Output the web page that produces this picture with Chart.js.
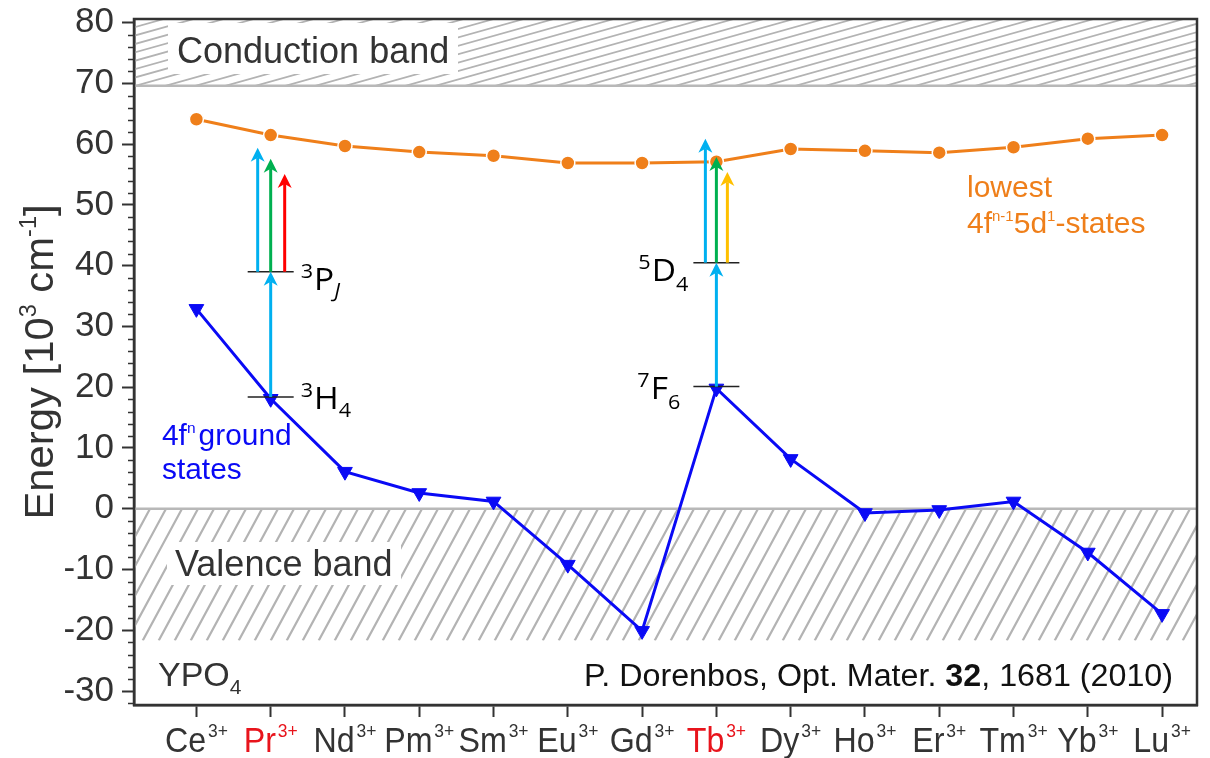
<!DOCTYPE html>
<html>
<head>
<meta charset="utf-8">
<script src="https://cdn.jsdelivr.net/npm/chart.js@4.4.1/dist/chart.umd.min.js"></script>
<style>
  html, body { margin: 0; padding: 0; background: #fff; }
</style>
</head>
<body>
<canvas id="chart1" width="1210" height="758"></canvas>
<script>
// ions along the lanthanide series, Pr and Tb highlighted in red
const ions = ['Ce', 'Pr', 'Nd', 'Pm', 'Sm', 'Eu', 'Gd', 'Tb', 'Dy', 'Ho', 'Er', 'Tm', 'Yb', 'Lu']
const redIons = ['Pr', 'Tb']
// lowest 4f(n-1)5d1 states and 4f(n) ground states, 10^3 cm^-1
const lowest5d = [64.1, 61.5, 59.7, 58.7, 58.1, 56.9, 56.9, 57.1, 59.2, 58.9, 58.6, 59.5, 60.9, 61.5]
const groundStates = [32.9, 18.1, 6.1, 2.6, 1.2, -9.2, -20.1, 19.8, 8.2, -0.7, -0.2, 1.2, -7.2, -17.3]
const yRange = [-32.3, 80.6]
const conductionBand = [69.6, 80.6]
const valenceBand = [-21.7, 0]
// Pr3+: 3H4, 3PJ levels and excitation arrow tops (blue, green, red)
const prLevels = [18.4, 39.0]
const prExcite = [59.4, 57.6, 55.1]
// Tb3+: 7F6, 5D4 levels and excitation arrow tops (blue, green, yellow)
const tbLevels = [20.1, 40.5]
const tbExcite = [60.9, 57.9, 55.4]

const ORANGE = '#ef7f1a'
const BLUE = '#0a0af5'
const SKY = '#00b0f0'
const GREEN = '#00b050'
const RED = '#ff0000'
const YELLOW = '#ffc000'
const DARK = '#333333'
const ARIAL = '"Liberation Sans", Arial, sans-serif'
const SANS = '"Open Sans", "Noto Sans", sans-serif'

// text made of runs: {t, f (font), dy, c, gap}
function drawRuns(ctx, parts, x, y, opt) {
    opt = opt || {}
    const sx = opt.sx || 1
    ctx.save()
    let w = 0
    parts.forEach(p => {
        ctx.font = p.f
        p.w = ctx.measureText(p.t).width + (p.gap || 0)
        w += p.w
    })
    let start = x
    if (opt.align === 'center') start = x - w * sx / 2
    else if (opt.align === 'right') start = x - w * sx
    ctx.translate(start, y)
    ctx.scale(sx, 1)
    ctx.textBaseline = 'alphabetic'
    ctx.textAlign = 'left'
    let cx = 0
    parts.forEach(p => {
        ctx.font = p.f
        ctx.fillStyle = p.c || opt.color || DARK
        ctx.fillText(p.t, cx, p.dy || 0)
        cx += p.w
    })
    ctx.restore()
}

function arrow(ctx, x, yFrom, yTo, color) {
    const head = 14, half = 7, notch = 4
    ctx.save()
    ctx.strokeStyle = color
    ctx.fillStyle = color
    ctx.lineWidth = 3
    ctx.beginPath()
    ctx.moveTo(x, yFrom)
    ctx.lineTo(x, yTo + head - notch)
    ctx.stroke()
    ctx.beginPath()
    ctx.moveTo(x, yTo)
    ctx.lineTo(x + half, yTo + head)
    ctx.lineTo(x, yTo + head - notch)
    ctx.lineTo(x - half, yTo + head)
    ctx.closePath()
    ctx.fill()
    ctx.restore()
}

function hatch(ctx, area, yTop, yBot, slope, step, width) {
    ctx.save()
    ctx.beginPath()
    ctx.rect(area.left, yTop, area.right - area.left, yBot - yTop)
    ctx.clip()
    ctx.strokeStyle = '#b3b3b3'
    ctx.lineWidth = width
    const h = yBot - yTop
    const dx = h / slope
    ctx.beginPath()
    for (let x = area.left - dx - step; x < area.right + step; x += step) {
        ctx.moveTo(x, yBot)
        ctx.lineTo(x + dx, yTop)
    }
    ctx.stroke()
    ctx.restore()
}

const bandsPlugin = {
    id: 'bands',
    beforeDatasetsDraw(chart) {
        const ctx = chart.ctx
        const a = chart.chartArea
        const y = chart.scales.y
        const cTop = y.getPixelForValue(conductionBand[1])
        const cBot = y.getPixelForValue(conductionBand[0])
        const vTop = y.getPixelForValue(valenceBand[1])
        const vBot = y.getPixelForValue(valenceBand[0])
        hatch(ctx, a, cTop, cBot, 0.28, 30, 1.8)
        hatch(ctx, a, vTop, vBot, 1.85, 16, 2.2)
        ctx.save()
        ctx.strokeStyle = '#b8b8b8'
        ctx.lineWidth = 2.5
        ctx.beginPath()
        ctx.moveTo(a.left, cBot); ctx.lineTo(a.right, cBot)
        ctx.moveTo(a.left, vTop); ctx.lineTo(a.right, vTop)
        ctx.stroke()
        ctx.fillStyle = '#fff'
        ctx.fillRect(168, 23, 290, 51)
        ctx.fillRect(167, 542, 234, 43)
        ctx.restore()
        drawRuns(ctx, [{ t: 'Conduction band', f: '36px ' + ARIAL }], 177, 63)
        drawRuns(ctx, [{ t: 'Valence band', f: '36px ' + ARIAL }], 175, 576)
        drawRuns(ctx, [{ t: 'YPO', f: '34px ' + ARIAL }, { t: '4', f: '21px ' + ARIAL, dy: 8 }], 158, 686)
        drawRuns(ctx, [
            { t: 'P. Dorenbos, Opt. Mater. ', f: '31px ' + ARIAL, c: '#111' },
            { t: '32', f: 'bold 31px ' + ARIAL, c: '#111' },
            { t: ', 1681 (2010)', f: '31px ' + ARIAL, c: '#111' }
        ], 1173, 686, { align: 'right', sx: 1.04 })
    },
    afterDatasetsDraw(chart) {
        const ctx = chart.ctx
        const a = chart.chartArea
        const xs = chart.scales.x
        const y = chart.scales.y

        // energy levels and excitation arrows
        const groups = [
            { ion: 1, levels: prLevels, tops: prExcite, offs: [-13, 0, 14], cols: [SKY, GREEN, RED] },
            { ion: 7, levels: tbLevels, tops: tbExcite, offs: [-11, 0, 11], cols: [SKY, GREEN, YELLOW] }
        ]
        groups.forEach(g => {
            const cx = xs.getPixelForValue(g.ion)
            const lo = y.getPixelForValue(g.levels[0])
            const hi = y.getPixelForValue(g.levels[1])
            ctx.save()
            ctx.strokeStyle = '#222'
            ctx.lineWidth = 1.5
            ctx.beginPath()
            ctx.moveTo(cx - 23, lo); ctx.lineTo(cx + 23, lo)
            ctx.moveTo(cx - 23, hi); ctx.lineTo(cx + 23, hi)
            ctx.stroke()
            ctx.restore()
            arrow(ctx, cx, lo, hi, SKY)
            g.tops.forEach((t, i) => arrow(ctx, cx + g.offs[i], hi, y.getPixelForValue(t), g.cols[i]))
        })

        const prX = xs.getPixelForValue(1)
        const tbX = xs.getPixelForValue(7)
        const big = '31px ' + SANS
        const small = '20px ' + SANS
        drawRuns(ctx, [{ t: '3', f: small, dy: -12, gap: 1 }, { t: 'P', f: big }, { t: 'J', f: 'italic ' + small, dy: 7 }],
            prX + 30, y.getPixelForValue(prLevels[1]) + 18, { sx: 1.08, color: '#000' })
        drawRuns(ctx, [{ t: '3', f: small, dy: -12, gap: 1 }, { t: 'H', f: big }, { t: '4', f: small, dy: 8 }],
            prX + 30, y.getPixelForValue(prLevels[0]) + 12, { sx: 1.08, color: '#000' })
        drawRuns(ctx, [{ t: '5', f: small, dy: -12, gap: 1 }, { t: 'D', f: big }, { t: '4', f: small, dy: 10 }],
            tbX - 28, y.getPixelForValue(tbLevels[1]) + 18, { sx: 1.08, color: '#000', align: 'right' })
        drawRuns(ctx, [{ t: '7', f: small, dy: -12, gap: 1 }, { t: 'F', f: big }, { t: '6', f: small, dy: 10 }],
            tbX - 36, y.getPixelForValue(tbLevels[0]) + 12, { sx: 1.08, color: '#000', align: 'right' })

        // series captions
        drawRuns(ctx, [{ t: '4f', f: '29px ' + ARIAL }, { t: 'n', f: '15px ' + ARIAL, dy: -12, gap: 3 }, { t: 'ground', f: '29px ' + ARIAL }],
            162, 445, { color: BLUE, sx: 1.03 })
        drawRuns(ctx, [{ t: 'states', f: '29px ' + ARIAL }], 162, 479, { color: BLUE, sx: 1.03 })
        drawRuns(ctx, [{ t: 'lowest', f: '30px ' + ARIAL }], 967, 197, { color: ORANGE })
        drawRuns(ctx, [
            { t: '4f', f: '30px ' + ARIAL }, { t: 'n-1', f: '15px ' + ARIAL, dy: -12 },
            { t: '5d', f: '30px ' + ARIAL }, { t: '1', f: '15px ' + ARIAL, dy: -12 },
            { t: '-states', f: '30px ' + ARIAL }
        ], 967, 233, { color: ORANGE })

        // frame and minor ticks
        ctx.save()
        ctx.strokeStyle = DARK
        ctx.lineWidth = 2.5
        ctx.strokeRect(a.left, a.top, a.right - a.left, a.bottom - a.top)
        ctx.lineWidth = 1.5
        ctx.beginPath()
        for (let v = -32; v <= 80; v += 2) {
            if (v % 10 === 0) continue
            const py = Math.round(y.getPixelForValue(v)) + 0.5
            ctx.moveTo(a.left - 6, py); ctx.lineTo(a.left, py)
        }
        ctx.stroke()
        ctx.restore()

        // category labels with 3+ superscripts
        ions.forEach((ion, i) => {
            const col = redIons.includes(ion) ? '#e8141c' : DARK
            drawRuns(ctx, [{ t: ion, f: '35px ' + ARIAL, gap: 2 }, { t: '3+', f: '19px ' + ARIAL, dy: -15 }],
                xs.getPixelForValue(i), 752, { align: 'center', sx: 0.92, color: col })
        })

        // y axis title
        ctx.save()
        ctx.translate(53, 362)
        ctx.rotate(-Math.PI / 2)
        drawRuns(ctx, [
            { t: 'Energy [10', f: '41px ' + ARIAL }, { t: '3', f: '23px ' + ARIAL, dy: -17 },
            { t: ' cm', f: '41px ' + ARIAL }, { t: '-1', f: '23px ' + ARIAL, dy: -17 },
            { t: ']', f: '41px ' + ARIAL }
        ], 0, 0, { align: 'center', sx: 1.02 })
        ctx.restore()
    }
}

const ctx1 = document.getElementById('chart1').getContext('2d')
new Chart(ctx1, {
    type: 'line',
    data: {
        datasets: [{
            label: 'lowest 4f(n-1)5d1-states',
            data: lowest5d.map((v, i) => ({ x: i, y: v })),
            borderColor: ORANGE,
            borderWidth: 3,
            pointRadius: 7,
            pointBackgroundColor: ORANGE,
            pointBorderColor: '#fff',
            pointBorderWidth: 1.5
        }, {
            label: '4f(n) ground states',
            data: groundStates.map((v, i) => ({ x: i, y: v })),
            borderColor: BLUE,
            borderWidth: 3,
            pointStyle: 'triangle',
            rotation: 180,
            pointRadius: 8.5,
            pointBackgroundColor: BLUE,
            pointBorderColor: BLUE,
            pointBorderWidth: 1
        }]
    },
    options: {
        responsive: false,
        animation: false,
        layout: { padding: { top: 19, right: 13, left: 0, bottom: 0 } },
        plugins: { legend: { display: false }, tooltip: { enabled: false } },
        scales: {
            x: {
                type: 'linear',
                min: -0.84,
                max: 13.47,
                afterFit: s => { s.height = 53; s.paddingLeft = 0; s.paddingRight = 0 },
                ticks: { stepSize: 1, includeBounds: false, display: false },
                grid: { drawOnChartArea: false, tickLength: 12, tickWidth: 2, tickColor: DARK },
                border: { color: DARK, width: 2.5 }
            },
            y: {
                min: yRange[0],
                max: yRange[1],
                afterFit: s => { s.width = 134; s.paddingTop = 0; s.paddingBottom = 0 },
                ticks: {
                    stepSize: 10,
                    includeBounds: false,
                    color: DARK,
                    padding: 8,
                    font: { family: ARIAL, size: 35 }
                },
                grid: { drawOnChartArea: false, tickLength: 12, tickWidth: 2, tickColor: DARK },
                border: { color: DARK, width: 2.5 }
            }
        }
    },
    plugins: [bandsPlugin]
})
</script>
</body>
</html>
